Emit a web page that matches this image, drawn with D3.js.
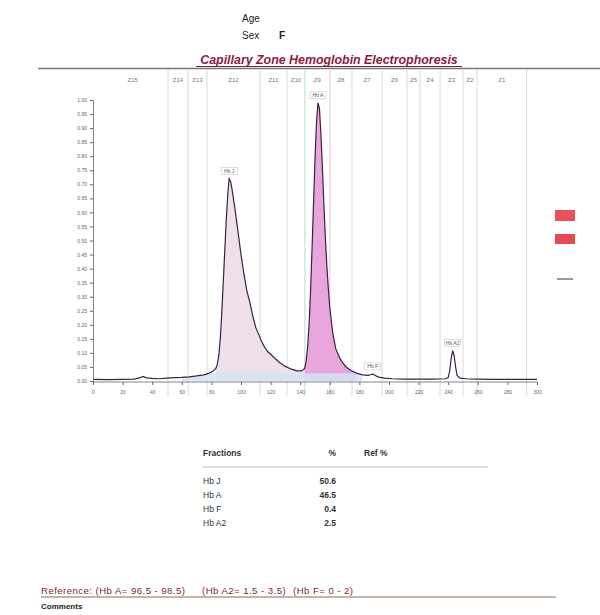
<!DOCTYPE html>
<html><head><meta charset="utf-8">
<script src="https://cdn.jsdelivr.net/npm/d3@7"></script>
<style>body{margin:0;background:#fff}svg{display:block;font-family:"Liberation Sans",Arial,sans-serif}</style>
</head><body>
<svg id="c" width="600" height="615"></svg>
<script>
// ---- data ----
const mobility = [0,10,20,28,32,34,36,40,45,50,55,60,65,70,75,78,81,83,84,85,86,87,88,89,90,91,92,93,94,96,98,100,102,104,106,108,110,112,114,116,118,120,123,126,130,134,138,141,143,144,145,146,147,148,149,150,151,152,153,154,155,156,157,158,159,160,162,164,166,168,171,174,178,182,186,188,189,190,193,197,202,210,220,230,238,240,241,242,243,244,245,246,248,252,260,270,280,290,300];
const signal   = [0.006,0.005,0.006,0.007,0.012,0.016,0.011,0.009,0.008,0.010,0.012,0.013,0.015,0.018,0.022,0.027,0.035,0.045,0.06,0.09,0.15,0.24,0.35,0.46,0.57,0.66,0.72,0.71,0.68,0.61,0.53,0.45,0.38,0.32,0.28,0.23,0.19,0.165,0.14,0.12,0.105,0.095,0.08,0.066,0.052,0.042,0.036,0.036,0.045,0.07,0.12,0.2,0.32,0.47,0.63,0.79,0.92,0.99,0.97,0.88,0.76,0.63,0.51,0.41,0.33,0.26,0.17,0.115,0.09,0.07,0.05,0.038,0.028,0.022,0.02,0.023,0.025,0.021,0.014,0.010,0.008,0.007,0.007,0.007,0.008,0.012,0.035,0.08,0.108,0.09,0.05,0.02,0.01,0.008,0.007,0.006,0.006,0.006,0.006];
const zoneBounds = [3,50.7,64.2,77,112.8,131,143.2,160,175,195.3,212.2,221,234.5,250,259.5,293];
const zoneNames  = ["Z15","Z14","Z13","Z12","Z11","Z10","Z9","Z8","Z7","Z6","Z5","Z4","Z3","Z2","Z1"];
const xTicks = [0,20,40,60,80,100,120,140,160,180,200,220,240,260,280,300];
const yTicks = [0,0.05,0.10,0.15,0.20,0.25,0.30,0.35,0.40,0.45,0.50,0.55,0.60,0.65,0.70,0.75,0.80,0.85,0.90,0.95,1.00];
const peakNames = ["Hb J","Hb A","Hb F","Hb A2"];
const peakPos   = [92,152,189,243];
const fractions = ["Hb J","Hb A","Hb F","Hb A2"];
const percents  = ["50.6","46.5","0.4","2.5"];
const refParts = ["Reference: (Hb A= 96.5 - 98.5)", "(Hb A2= 1.5 - 3.5)", "(Hb F= 0 - 2)"];

// ---- drawing ----
const svg = d3.select("#c");
const pts = mobility.map((m,i)=>({m, v: signal[i]}));
const x = d3.scaleLinear().domain([0,300]).range([93,537]);
const y = d3.scaleLinear().domain([0,1]).range([381,100]);

// header
svg.append("text").attr("x",242).attr("y",22).attr("font-size",10).attr("fill","#222").text("Age");
svg.append("text").attr("x",242).attr("y",39).attr("font-size",10).attr("fill","#222").text("Sex");
svg.append("text").attr("x",279).attr("y",39).attr("font-size",10).attr("font-weight","bold").attr("fill","#222").text("F");
svg.append("text").attr("x",329).attr("y",64).attr("text-anchor","middle").attr("font-size",12.4)
  .attr("font-weight","bold").attr("font-style","italic").attr("fill","#8a1c3c").text("Capillary Zone Hemoglobin Electrophoresis");
svg.append("line").attr("x1",196).attr("x2",462).attr("y1",66.5).attr("y2",66.5).attr("stroke","#8a1c3c").attr("stroke-width",1);
svg.append("line").attr("x1",38).attr("x2",600).attr("y1",68.5).attr("y2",68.5).attr("stroke","#777").attr("stroke-width",1.6);

// zone lines
const lineColor = b => b===143.2 ? "#9ed6c4" : (b===160 ? "#e4b6cf" : "#cfcfcf");
svg.append("g").selectAll("line").data(zoneBounds.slice(1)).join("line")
  .attr("x1",d=>x(d)).attr("x2",d=>x(d)).attr("y1",70).attr("y2",396)
  .attr("stroke",d=>lineColor(d)).attr("stroke-width",0.8);
svg.append("g").selectAll("text").data(zoneNames).join("text")
  .attr("x",(d,i)=>x((zoneBounds[i]+zoneBounds[i+1])/2)).attr("y",82)
  .attr("text-anchor","middle").attr("font-size",6).attr("fill","#777").text(d=>d);

// areas
const area = d3.area().x(d=>x(d.m)).y0(y(0)).y1(d=>y(d.v));
svg.append("path").datum(pts.filter(d=>d.m>=82&&d.m<=143)).attr("d",area).attr("fill","#efe1ea");
svg.append("path").datum(pts.filter(d=>d.m>=143&&d.m<=178)).attr("d",area).attr("fill","#e8a6dc");
svg.append("clipPath").attr("id","low").append("rect")
  .attr("x",x(58)).attr("width",x(182)-x(58)).attr("y",y(0.028)).attr("height",y(0)-y(0.028));
svg.append("path").datum(pts.filter(d=>d.m>=58&&d.m<=182)).attr("d",area)
  .attr("fill","#d3e4f4").attr("opacity",0.85).attr("clip-path","url(#low)");

// curve
svg.append("path").datum(pts).attr("d",d3.line().x(d=>x(d.m)).y(d=>y(d.v)))
  .attr("fill","none").attr("stroke","#3a2340").attr("stroke-width",1.2);

// axes
const xa = svg.append("g").attr("transform",`translate(0,${y(0)+1})`)
  .call(d3.axisBottom(x).tickValues(xTicks).tickSize(3).tickFormat(d3.format("d")));
const ya = svg.append("g").attr("transform",`translate(${x(0)},0)`)
  .call(d3.axisLeft(y).tickValues(yTicks).tickSize(3).tickFormat(d3.format(".2f")));
[xa,ya].forEach(a=>{
  a.select(".domain").attr("stroke","#666").attr("stroke-width",0.8);
  a.selectAll(".tick line").attr("stroke","#666");
  a.selectAll(".tick text").attr("font-size",5).attr("fill","#666").attr("font-family","Liberation Sans, Arial");
});
xa.select(".domain").attr("d",`M${x(0)},0H${x(300)}`);
xa.selectAll(".tick text").attr("dy","1.2em");

// peak labels
const near = m => pts.reduce((a,b)=>Math.abs(b.m-m)<Math.abs(a.m-m)?b:a);
peakNames.forEach((n,i)=>{
  const p = near(peakPos[i]);
  const g = svg.append("g").attr("transform",`translate(${x(p.m)},${y(p.v)-6})`);
  g.append("rect").attr("x",-8).attr("y",-5).attr("width",16).attr("height",7)
    .attr("fill","#fff").attr("stroke","#bbb").attr("stroke-width",0.5);
  g.append("text").attr("text-anchor","middle").attr("y",0.5).attr("font-size",5).attr("fill","#555").text(n);
});

// right band
svg.append("rect").attr("x",555).attr("y",210).attr("width",20).attr("height",11).attr("fill","#e8323c").attr("opacity",0.85);
svg.append("rect").attr("x",555).attr("y",234).attr("width",20).attr("height",10).attr("fill","#e02a34").attr("opacity",0.85);
svg.append("rect").attr("x",557).attr("y",278).attr("width",16).attr("height",2).attr("fill","#999");

// fractions table
const t = svg.append("g").attr("font-size",8.5).attr("font-weight","bold").attr("fill","#333");
t.append("text").attr("x",203).attr("y",456).text("Fractions");
t.append("text").attr("x",336).attr("y",456).attr("text-anchor","end").text("%");
t.append("text").attr("x",364).attr("y",456).text("Ref %");
svg.append("line").attr("x1",203).attr("x2",488).attr("y1",467).attr("y2",467).attr("stroke","#bbb").attr("stroke-width",1);
fractions.forEach((f,i)=>{
  t.append("text").attr("x",203).attr("y",484+i*14).attr("font-weight","normal").text(f);
  t.append("text").attr("x",336).attr("y",484+i*14).attr("text-anchor","end").text(percents[i]);
});

// reference + comments
const refX = [41, 202, 293];
refParts.forEach((s,i)=>{
  svg.append("text").attr("x",refX[i]).attr("y",594).attr("font-size",9.6).attr("letter-spacing",0.45)
    .attr("fill","#7a1f35").text(s);
});
svg.append("line").attr("x1",41).attr("x2",556).attr("y1",597).attr("y2",597).attr("stroke","#8a6a50").attr("stroke-width",1);
svg.append("text").attr("x",41).attr("y",609).attr("font-size",8).attr("font-weight","bold").attr("fill","#222").text("Comments");
</script>
</body></html>
